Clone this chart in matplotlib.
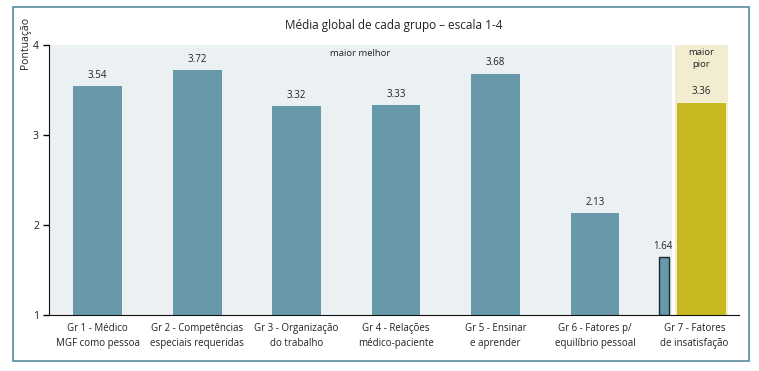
import matplotlib
matplotlib.use("Agg")
import matplotlib.pyplot as plt
from matplotlib.patches import Rectangle

plt.rcParams['font.family'] = ['Open Sans', 'DejaVu Sans']

categories = ["Gr 1 - Médico\nMGF como pessoa",
              "Gr 2 - Competências\nespeciais requeridas",
              "Gr 3 - Organização\ndo trabalho",
              "Gr 4 - Relações\nmédico-paciente",
              "Gr 5 - Ensinar\ne aprender",
              "Gr 6 - Fatores p/\nequilíbrio pessoal",
              "Gr 7 - Fatores\nde insatisfação"]
best_values = [3.54, 3.72, 3.32, 3.33, 3.68, 2.13]
gr7_small = 1.64
gr7_worst = 3.36
title = "Média global de cada grupo – escala 1-4"
ylabel = "Pontuação"
yticks = [1, 2, 3, 4]

teal = "#6799ab"
yellow = "#c9b920"
gray_bg = "#ebf0f2"
beige_bg = "#f2ecd0"
frame_c = "#6493a8"
txt = "#222222"

W, H = 759, 371
fig = plt.figure(figsize=(W/100, H/100), dpi=100)
ax = fig.add_axes([48.7/W, 1-315/H, (739-48.7)/W, (315-45)/H])

ax.set_xlim(-0.493, 6.449)
ax.set_ylim(1, 4)

# background zones
ax.add_patch(Rectangle((-0.493, 1), 5.772+0.493, 3, color=gray_bg, zorder=0, lw=0))
ax.add_patch(Rectangle((5.802, 1), 6.341-5.802, 3, color=beige_bg, zorder=0, lw=0))

bw = 0.49
xs = list(range(len(best_values)))
ax.bar(xs, [v - 1 for v in best_values], bottom=1, width=bw, color=teal, zorder=2)
for x, v in zip(xs, best_values):
    ax.annotate(f"{v:.2f}", (x, v), xytext=(0, 4), textcoords="offset points",
                ha="center", va="bottom", fontsize=7, color=txt)

ax.bar([5.697], [gr7_small - 1], bottom=1, width=0.10, color=teal,
       edgecolor="#1e2a30", linewidth=1, zorder=2)
ax.annotate(f"{gr7_small:.2f}", (5.68, gr7_small), xytext=(0, 4), textcoords="offset points",
            ha="center", va="bottom", fontsize=7, color=txt)

ax.bar([6.07], [gr7_worst - 1], bottom=1, width=0.496, color=yellow, zorder=2)
ax.annotate(f"{gr7_worst:.2f}", (6.07, gr7_worst), xytext=(0, 4), textcoords="offset points",
            ha="center", va="bottom", fontsize=7, color=txt)

ax.text((-0.493+5.772)/2, 3.9, "maior melhor", ha="center", va="center", fontsize=6.8, color=txt)
ax.text(6.07, 3.85, "maior\npior", ha="center", va="center", fontsize=6.8, color=txt, linespacing=1.4)

ax.set_xticks(range(len(categories)))
ax.set_xticklabels(categories, fontsize=7, color=txt, linespacing=1.45)
ax.tick_params(axis="x", length=0, pad=6)
ax.set_yticks(yticks)
ax.set_yticklabels([str(t) for t in yticks], fontsize=7.5, color=txt)
ax.tick_params(axis="y", length=4, width=1, direction="out", pad=3)

for s in ["top", "right"]:
    ax.spines[s].set_visible(False)
ax.spines["left"].set_color("#111111")
ax.spines["bottom"].set_color("#111111")
ax.set_facecolor("none")

fig.text(394/W, 1-25/H, title, ha="center", va="center", fontsize=8.5, color=txt)
fig.text(25/W, 1-42.5/H, ylabel, ha="center", va="center", rotation=90, fontsize=7.5, color=txt)

fig.patches.append(Rectangle((13/W, 1-361/H), (749-13)/W, (361-7)/H, transform=fig.transFigure,
                             fill=False, edgecolor=frame_c, linewidth=1.3))

fig.savefig("out.png", dpi=100)
